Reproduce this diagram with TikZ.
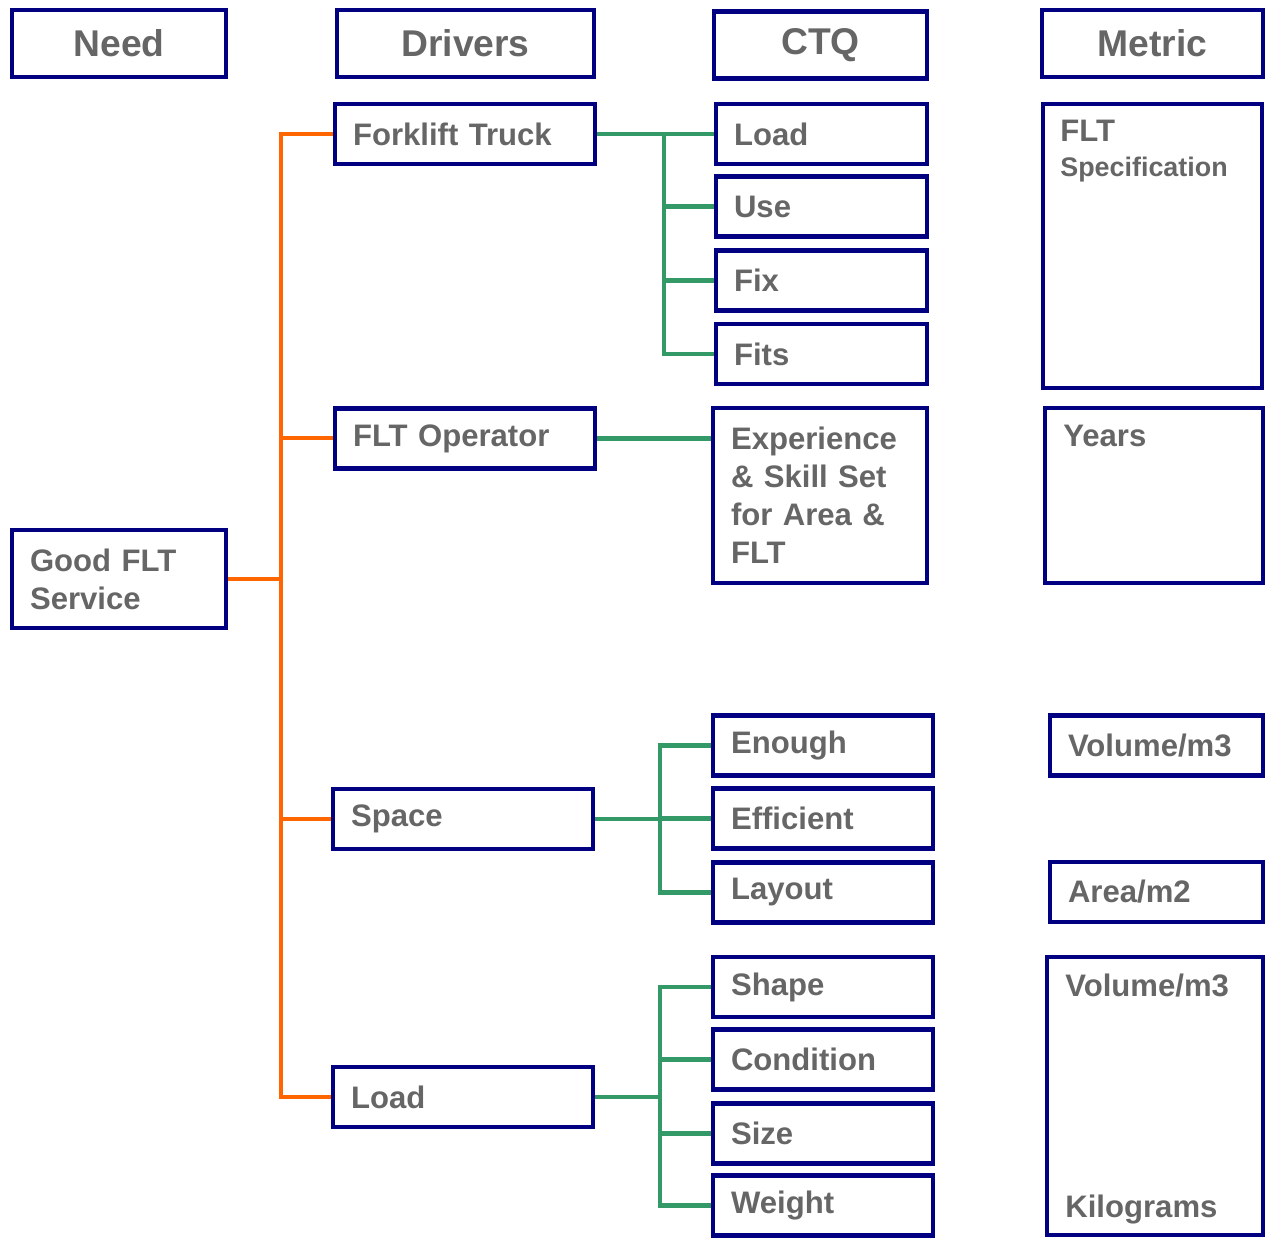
\documentclass[tikz,border=0pt]{standalone}
\usepackage{fontspec}
\setmainfont{Liberation Sans}
\definecolor{navy}{HTML}{000080}
\definecolor{textgrey}{HTML}{666666}
\definecolor{needline}{HTML}{FF6600}
\definecolor{ctqline}{HTML}{339966}

\tikzset{
  box/.style={draw=navy, line width=0.095cm, text=textgrey, align=left,
    font=\bfseries\fontsize{17.7}{21.6}\selectfont, inner xsep=0.36cm, inner ysep=0pt},
  head/.style={box, align=center, minimum height=1.34cm,
    font=\bfseries\fontsize{21.2}{25}\selectfont},
  words/.style={text=textgrey, font=\bfseries\fontsize{17.7}{21.6}\selectfont,
    inner sep=0pt, anchor=base west},
  feed/.style={draw=needline, line width=0.08cm},
  link/.style={draw=ctqline, line width=0.085cm}
}

\begin{document}
\begin{tikzpicture}[x=0.02cm, y=-0.02cm]
  \useasboundingbox (0,0) rectangle (1270,1239);

  % column heads
  \node[head, text width=3.56cm] (need)    at (119,43.5)    {Need};
  \node[head, text width=4.42cm] (drivers) at (465.5,43.5)  {Drivers};
  \node[head, text width=3.54cm] (ctq)     at (820.5,45)    {CTQ};
  \node[head, text width=3.70cm] (metric)  at (1152.5,43.5) {Metric};

  % need
  \node[box, text width=3.56cm, minimum height=1.96cm] (good) at (119,579) {Good FLT\\Service};

  % drivers
  \node[box, text width=4.48cm, minimum height=1.2cm] (truck)    at (465,134)   {Forklift Truck};
  \node[box, text width=4.48cm, minimum height=1.2cm] (operator) at (465,438.5) {FLT Operator};
  \node[box, text width=4.48cm, minimum height=1.2cm] (space)    at (463,819)   {Space};
  \node[box, text width=4.48cm, minimum height=1.2cm] (loaddrv)  at (463,1097)  {Load};

  % ctq
  \node[box, text width=3.50cm, minimum height=1.2cm] (load) at (821.5,134)   {Load};
  \node[box, text width=3.50cm, minimum height=1.2cm] (use)  at (821.5,206.5) {Use};
  \node[box, text width=3.50cm, minimum height=1.2cm] (fix)  at (821.5,280.5) {Fix};
  \node[box, text width=3.50cm, minimum height=1.2cm] (fits) at (821.5,354)   {Fits};
  \node[box, text width=3.56cm, minimum height=3.5cm] (skill) at (820,495.5)
    {Experience\\\& Skill Set\\for Area \&\\FLT};
  \node[box, text width=3.68cm, minimum height=1.2cm] (enough)    at (823,745.5)  {Enough};
  \node[box, text width=3.68cm, minimum height=1.2cm] (efficient) at (823,818.5)  {Efficient};
  \node[box, text width=3.68cm, minimum height=1.2cm] (layout)    at (823,892.5)  {Layout};
  \node[box, text width=3.68cm, minimum height=1.2cm] (shape)     at (823,987)    {Shape};
  \node[box, text width=3.68cm, minimum height=1.2cm] (condition) at (823,1059.5) {Condition};
  \node[box, text width=3.68cm, minimum height=1.2cm] (size)      at (823,1133.5) {Size};
  \node[box, text width=3.68cm, minimum height=1.2cm] (weight)    at (823,1205.5) {Weight};

  % metric
  \node[box, minimum width=4.38cm, minimum height=5.68cm] (spec)  at (1152.5,246) {};
  \node[box, minimum width=4.36cm, minimum height=3.5cm]  (years) at (1154,495.5) {};
  \node[box, text width=3.54cm, minimum height=1.2cm] (volume) at (1156.5,745.5) {Volume/m3};
  \node[box, text width=3.54cm, minimum height=1.2cm] (area)   at (1156.5,892)   {Area/m2};
  \node[box, minimum width=4.32cm, minimum height=5.56cm] (mass)  at (1155,1096) {};
  \node[words] (flt) at (1060,142) {FLT};
  \node[words, font=\bfseries\fontsize{15.3}{18}\selectfont] (specword) at (1060,177) {Specification};
  \node[words] (yrs)  at (1063,447)  {Years};
  \node[words] (volm) at (1065,996)  {Volume/m3};
  \node[words] (kg)   at (1065,1217) {Kilograms};

  % need to drivers
  \coordinate (spine) at (281,0);
  \draw[feed] (truck.west) -| (loaddrv.west -| spine) -- (loaddrv.west);
  \draw[feed] (good.east) -- (good.east -| spine);
  \foreach \d in {operator,space}
    \draw[feed] (\d.west) -- (\d.west -| spine);

  % drivers to ctq
  \coordinate (fork) at (664,0);
  \coordinate (split) at (660,0);
  \draw[link] (truck.east) -- (truck.east -| load.west);
  \draw[link] (load.west -| fork) |- (fits.west);
  \foreach \c in {use,fix}
    \draw[link] (\c.west) -- (\c.west -| fork);

  \draw[link] (operator.east) -- (operator.east -| skill.west);

  \draw[link] (space.east) -- (space.east -| split);
  \draw[link] (enough.west) -| (layout.west -| split) -- (layout.west);
  \draw[link] (efficient.west) -- (efficient.west -| split);

  \draw[link] (loaddrv.east) -- (loaddrv.east -| split);
  \draw[link] (shape.west) -| (weight.west -| split) -- (weight.west);
  \foreach \c in {condition,size}
    \draw[link] (\c.west) -- (\c.west -| split);
\end{tikzpicture}
\end{document}
